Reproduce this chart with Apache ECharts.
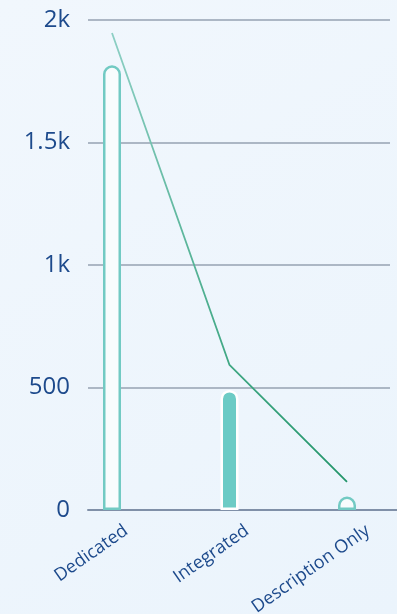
<!DOCTYPE html>
<html>
<head>
<meta charset="utf-8">
<script src="https://cdn.jsdelivr.net/npm/echarts@6/dist/echarts.min.js"></script>
<style>
    html, body { margin: 0; padding: 0; }
    #chart { width: 397px; height: 614px; }
</style>
</head>
<body>
<div id="chart"></div>
<script>
    // categories and values
    const categories = ['Dedicated', 'Integrated', 'Description Only']
    const barValues = [1815, 490, 55]
    const lineValues = [1947, 592, 115]
    const yTicks = [0, 500, 1000, 1500, 2000]

    const labelColor = '#1d4a8c'
    const teal = '#72cac3'

    // per-bar look: hollow, filled, hollow
    const barStyles = [
        { color: '#f8fcfd', borderColor: teal },
        { color: '#6ccbc5', borderColor: '#ffffff' },
        { color: '#f8fcfd', borderColor: teal }
    ]

    const fmt = v => (v >= 1000 ? (v / 1000) + 'k' : String(v))

    const chart = echarts.init(document.getElementById('chart'), null, { renderer: 'canvas' })
    const yBase = { type: 'value', min: yTicks[0], max: yTicks[yTicks.length - 1], interval: 500 }
    const gridBase = { top: 20, height: 490, outerBoundsMode: 'none', containLabel: false }
    const option = {
        backgroundColor: new echarts.graphic.LinearGradient(0, 0, 1, 1, [
            { offset: 0, color: '#f1f7fd' },
            { offset: 1, color: '#ebf4fc' }
        ]),
        animation: false,
        grid: [
            // split lines + y labels
            { ...gridBase, left: 88, width: 302 },
            // x axis line
            { ...gridBase, left: 88, width: 309 },
            // bars and line
            { ...gridBase, left: 53.25, width: 352.5 },
            // category labels
            { ...gridBase, left: 65.5, width: 363 }
        ],
        xAxis: [
            { gridIndex: 0, type: 'category', data: categories, show: false },
            {
                gridIndex: 1, type: 'category', data: categories,
                axisLine: { lineStyle: { color: '#8090a8', width: 2 } },
                axisTick: { show: false }, axisLabel: { show: false }
            },
            { gridIndex: 2, type: 'category', data: categories, show: false },
            {
                gridIndex: 3, type: 'category', data: categories,
                axisLine: { show: false }, axisTick: { show: false },
                axisLabel: {
                    rotate: 35, margin: 19, interval: 0,
                    color: labelColor, fontSize: 18, fontFamily: 'Open Sans'
                }
            }
        ],
        yAxis: [
            {
                ...yBase, gridIndex: 0,
                axisLine: { show: false }, axisTick: { show: false },
                splitLine: { lineStyle: { color: '#96a2b2', width: 1.5 } },
                axisLabel: { formatter: fmt, color: labelColor, fontSize: 24, margin: 18, fontFamily: 'Open Sans' }
            },
            { ...yBase, gridIndex: 1, show: false },
            { ...yBase, gridIndex: 2, show: false },
            { ...yBase, gridIndex: 3, show: false }
        ],
        series: [
            {
                type: 'bar',
                xAxisIndex: 2, yAxisIndex: 2,
                barWidth: 18,
                data: barValues.map((v, i) => ({
                    value: v,
                    itemStyle: Object.assign({ borderWidth: 2.5, borderRadius: [9, 9, 0, 0] }, barStyles[i])
                }))
            },
            {
                type: 'line',
                xAxisIndex: 2, yAxisIndex: 2,
                data: lineValues,
                symbol: 'none',
                lineStyle: {
                    width: 1.8,
                    color: new echarts.graphic.LinearGradient(0, 0, 1, 0, [
                        { offset: 0, color: '#8fd0c6' },
                        { offset: 0.5, color: '#3fa783' },
                        { offset: 1, color: '#23956a' }
                    ])
                }
            }
        ]
    }
    chart.setOption(option)
</script>
</body>
</html>
